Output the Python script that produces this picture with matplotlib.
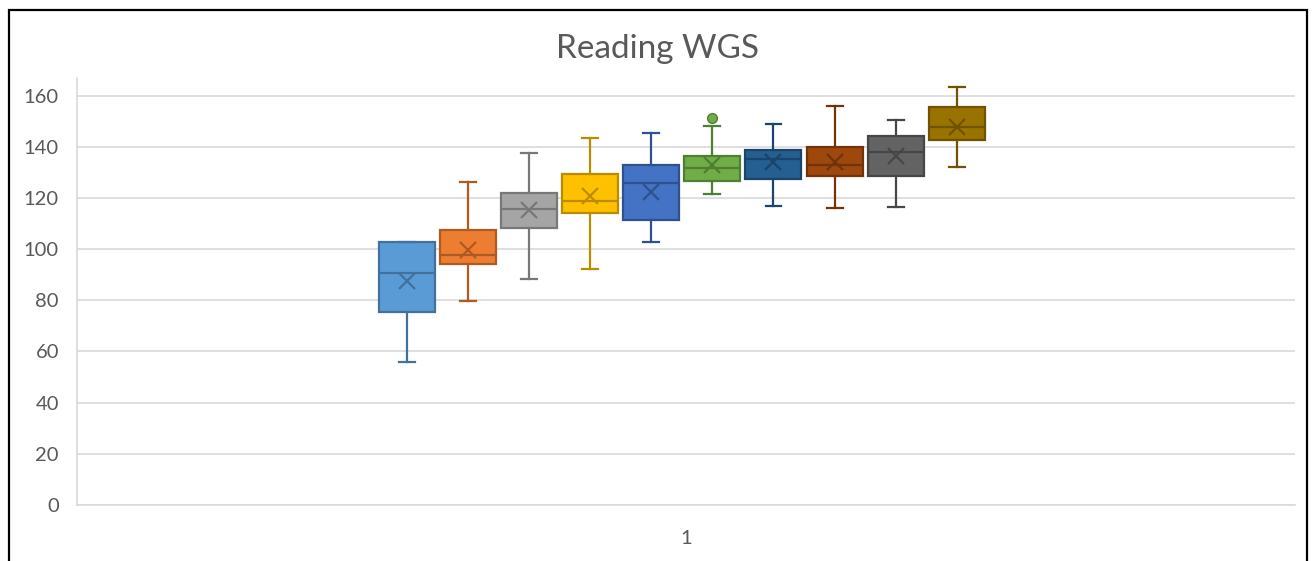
import matplotlib
matplotlib.use("Agg")
import matplotlib.pyplot as plt
from matplotlib.patches import Rectangle

plt.rcParams['font.family'] = ['Lato', 'DejaVu Sans']

# box statistics (one box per series)
q1 = [75.6, 94.3, 108.2, 114.3, 111.4, 126.6, 127.6, 128.6, 128.4, 142.8]
med = [90.6, 97.8, 115.6, 119.0, 125.8, 131.9, 135.4, 132.7, 138.1, 147.7]
q3 = [102.8, 107.4, 121.9, 129.3, 132.7, 136.3, 138.7, 140.0, 144.1, 155.6]
whislo = [55.7, 79.9, 88.3, 92.4, 102.9, 121.5, 116.8, 116.1, 116.3, 132.1]
whishi = [102.8, 126.2, 137.5, 143.6, 145.4, 148.0, 148.8, 155.9, 150.4, 163.5]
means = [87.4, 99.7, 115.1, 120.9, 122.5, 132.9, 134.0, 134.2, 136.4, 147.7]
fliers = [[], [], [], [], [], [151.4], [], [], [], []]

fills = ['#5B9BD5', '#ED7D31', '#A5A5A5', '#FFC000', '#4472C4',
         '#70AD47', '#255E91', '#9E480E', '#636363', '#997300']
edges = ['#41719C', '#AE5A21', '#787878', '#BC8C00', '#2F528F',
         '#507E32', '#1A4469', '#70330A', '#474747', '#6F5300']

fig = plt.figure(figsize=(13.16, 5.61), dpi=100)
ax = fig.add_axes([77/1316, 1-505/561, (1295-77)/1316, (505-77.7)/561])

step = 0.0502
n = len(q1)
for i in range(n):
    pos = 0.9965 + (i - (n-1)/2) * step
    st = dict(q1=q1[i], med=med[i], q3=q3[i], whislo=whislo[i], whishi=whishi[i],
              mean=means[i], fliers=fliers[i])
    ec = edges[i]
    ax.bxp([st], positions=[pos], widths=0.046, capwidths=0.013, patch_artist=True,
           showmeans=True, manage_ticks=False,
           boxprops=dict(facecolor=fills[i], edgecolor=ec, linewidth=1.6),
           medianprops=dict(color=ec, linewidth=1.6),
           whiskerprops=dict(color=ec, linewidth=1.6),
           capprops=dict(color=ec, linewidth=1.6),
           meanprops=dict(marker='x', markeredgecolor=ec, markersize=12, markeredgewidth=1.6),
           flierprops=dict(marker='o', markerfacecolor=fills[i], markeredgecolor=ec,
                           markersize=7, markeredgewidth=1))

ax.set_xlim(0.5, 1.5)
ax.set_ylim(0, 167)
ax.set_yticks(range(0, 161, 20))
ax.set_xticks([1])
ax.set_xticklabels(['1'])
ax.yaxis.grid(True, color='#D9D9D9', linewidth=1.2)
ax.set_axisbelow(True)
for s in ['top', 'right']:
    ax.spines[s].set_visible(False)
ax.spines['left'].set_color('#D9D9D9')
ax.spines['bottom'].set_color('#D9D9D9')
ax.spines['left'].set_linewidth(1.2)
ax.spines['bottom'].set_linewidth(1.2)
ax.tick_params(axis='y', length=0, pad=13, labelsize=14.5, labelcolor='#595959')
ax.tick_params(axis='x', length=0, pad=18, labelsize=14.5, labelcolor='#595959')

fig.text(0.5, 1-49/561, 'Reading WGS', ha='center', va='center', fontsize=24, color='#595959')

fig.patches.append(Rectangle((8.5/1316, -0.1), (1307-8.5)/1316, 1.1 - 10/561,
                             transform=fig.transFigure, fill=False, edgecolor='black',
                             linewidth=1.6, clip_on=False))

fig.savefig('out.png', dpi=100)
